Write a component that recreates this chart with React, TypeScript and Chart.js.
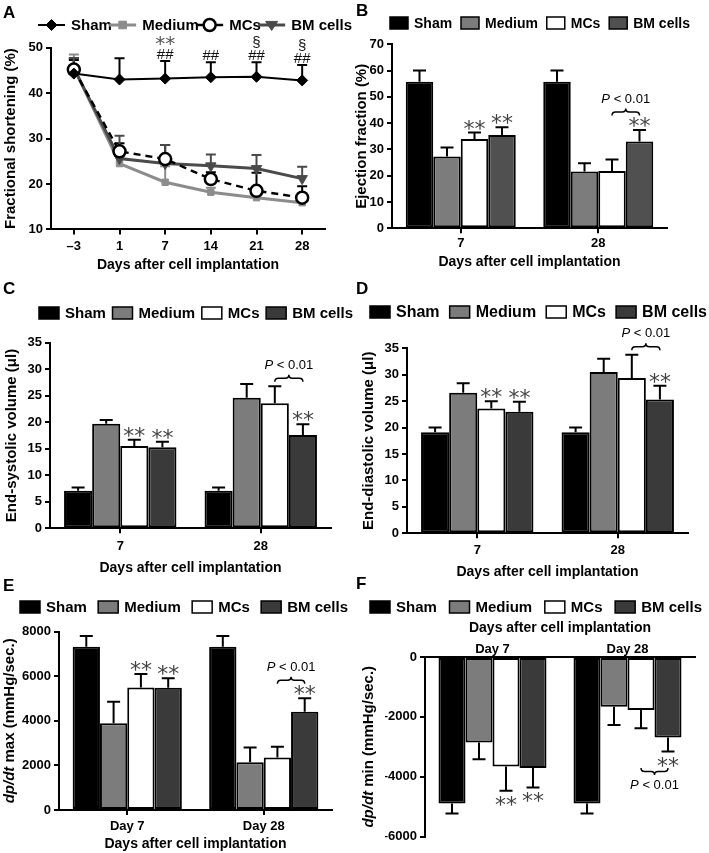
import React, { useEffect, useRef } from 'react';
import { Chart, registerables } from 'chart.js';

Chart.register(...registerables);

const PAGE_W = 709;
const PAGE_H = 853;
const FONT = '"Liberation Sans", Arial, Helvetica, sans-serif';
const STAR_FONT = '"DejaVu Sans", sans-serif';

const GROUPS = ['Sham', 'Medium', 'MCs', 'BM cells'];

// ---------- Panel A: fractional shortening (%) ----------
const daysA = ['–3', '1', '7', '14', '21', '28'];
const shamA = [44.3, 43.0, 43.2, 43.5, 43.6, 42.8];
const shamAErr = [3.0, 4.7, 3.9, 3.3, 3.2, 3.4];
const mediumA = [45.6, 24.5, 20.4, 18.2, 17.0, 15.9];
const mediumAErr = [2.9, 2.0, 3.5, 1.0, 1.0, 1.0];
const mcsA = [45.2, 27.2, 25.5, 21.1, 18.5, 17.0];
const mcsAErr = [2.5, 1.8, 3.1, 1.5, 4.0, 2.5];
const bmA = [45.5, 25.6, 24.5, 24.0, 23.4, 21.2];
const bmAErr = [2.2, 5.0, 4.1, 2.5, 3.0, 2.6];
const marksA = [[], [], ['##', '**'], ['##'], ['##', '§'], ['##', '§']];

// ---------- Panel B: ejection fraction (%) ----------
const daysB = ['7', '28'];
const shamB = [55.8, 55.8];
const shamBErr = [4.2, 4.2];
const mediumB = [27.3, 21.6];
const mediumBErr = [3.4, 3.1];
const mcsB = [34.0, 21.8];
const mcsBErr = [2.4, 4.4];
const bmB = [35.5, 33.0];
const bmBErr = [2.9, 4.4];

// ---------- Panel C: end-systolic volume (µl) ----------
const daysC = ['7', '28'];
const shamC = [7.1, 7.1];
const shamCErr = [0.6, 0.6];
const mediumC = [19.7, 24.6];
const mediumCErr = [0.7, 2.6];
const mcsC = [15.5, 23.6];
const mcsCErr = [1.2, 3.2];
const bmC = [15.3, 17.6];
const bmCErr = [1.0, 2.0];

// ---------- Panel D: end-diastolic volume (µl) ----------
const daysD = ['7', '28'];
const shamD = [19.1, 19.1];
const shamDErr = [0.9, 0.9];
const mediumD = [26.6, 30.5];
const mediumDErr = [1.8, 2.5];
const mcsD = [23.6, 29.4];
const mcsDErr = [1.4, 4.4];
const bmD = [23.0, 25.3];
const bmDErr = [1.9, 2.6];

// ---------- Panel E: dp/dt max ----------
const daysE = ['Day 7', 'Day 28'];
const shamE = [7330, 7330];
const shamEErr = [480, 480];
const mediumE = [3890, 2140];
const mediumEErr = [970, 660];
const mcsE = [5500, 2360];
const mcsEErr = [600, 480];
const bmE = [5490, 4410];
const bmEErr = [420, 600];

// ---------- Panel F: dp/dt min ----------
const daysF = ['Day 7', 'Day 28'];
const shamF = [-4900, -4900];
const shamFErr = [330, 330];
const mediumF = [-2860, -1660];
const mediumFErr = [560, 610];
const mcsF = [-3660, -1770];
const mcsFErr = [810, 610];
const bmF = [-3710, -2690];
const bmFErr = [650, 470];

// significance: [dataset index, category index]
const starsBars: [number, number][] = [[2, 0], [3, 0], [3, 1]];
const pLabel = { italic: 'P', rest: ' < 0.01' };

type Rect = { l: number; r: number; t: number; b: number };
type TitlePart = { text: string; italic?: boolean };
interface Panel {
  kind: 'line' | 'bar';
  letter: string;
  letterX: number;
  letterY: number;
  plot: Rect;
  labels: string[];
  series: number[][];
  errors: number[][];
  colors: string[];
  yMin: number;
  yMax: number;
  yStep: number;
  yTitle: TitlePart[];
  yTitleX: number;
  xTitle: string;
  xTop?: boolean;
  xLabelY: number;
  xTitleY: number;
  legend: { y: number; x0: number; x1: number; size: number; boxW: number };
  marks?: string[][];
  stars?: boolean;
}

const barColorsB = ['#000000', '#7c7c7c', '#ffffff', '#505050'];
const barColors = ['#000000', '#7c7c7c', '#ffffff', '#3a3a3a'];
const lineStyles = [
  { color: '#000000', width: 2, dash: [] as number[], point: 'rectRot', r: 5.5, fill: '#000000', rot: 0, order: 0, mk: 'diamond' },
  { color: '#8c8c8c', width: 3, dash: [] as number[], point: 'rect', r: 4.5, fill: '#8c8c8c', rot: 0, order: 3, mk: 'square' },
  { color: '#000000', width: 2.5, dash: [7, 5], point: 'circle', r: 6, fill: '#ffffff', rot: 0, order: 1, mk: 'circle' },
  { color: '#4a4a4a', width: 3, dash: [] as number[], point: 'triangle', r: 6, fill: '#4a4a4a', rot: 180, order: 2, mk: 'tri' },
];

const PANELS: Panel[] = [
  {
    kind: 'line', letter: 'A', letterX: 3, letterY: 13,
    plot: { l: 51, r: 325, t: 47.7, b: 229.5 },
    labels: daysA,
    series: [shamA, mediumA, mcsA, bmA],
    errors: [shamAErr, mediumAErr, mcsAErr, bmAErr],
    colors: lineStyles.map((s) => s.color),
    yMin: 10, yMax: 50, yStep: 10,
    yTitle: [{ text: 'Fractional shortening (%)' }], yTitleX: 11,
    xTitle: 'Days after cell implantation', xLabelY: 246, xTitleY: 265,
    legend: { y: 25, x0: 38, x1: 352, size: 15, boxW: 27 },
    marks: marksA,
  },
  {
    kind: 'bar', letter: 'B', letterX: 356, letterY: 11,
    plot: { l: 392, r: 667, t: 44.3, b: 228.3 },
    labels: daysB,
    series: [shamB, mediumB, mcsB, bmB],
    errors: [shamBErr, mediumBErr, mcsBErr, bmBErr],
    colors: barColorsB,
    yMin: 0, yMax: 70, yStep: 10,
    yTitle: [{ text: 'Ejection fraction (%)' }], yTitleX: 362,
    xTitle: 'Days after cell implantation', xLabelY: 243, xTitleY: 262,
    legend: { y: 23, x0: 390, x1: 690, size: 14, boxW: 18 },
    stars: true,
  },
  {
    kind: 'bar', letter: 'C', letterX: 3, letterY: 289,
    plot: { l: 50, r: 331, t: 342.7, b: 528.3 },
    labels: daysC,
    series: [shamC, mediumC, mcsC, bmC],
    errors: [shamCErr, mediumCErr, mcsCErr, bmCErr],
    colors: barColors,
    yMin: 0, yMax: 35, yStep: 5,
    yTitle: [{ text: 'End-systolic volume (μl)' }], yTitleX: 12,
    xTitle: 'Days after cell implantation', xLabelY: 546, xTitleY: 568,
    legend: { y: 313, x0: 39, x1: 353, size: 15, boxW: 20 },
    stars: true,
  },
  {
    kind: 'bar', letter: 'D', letterX: 356, letterY: 289,
    plot: { l: 407, r: 688, t: 348.3, b: 533.3 },
    labels: daysD,
    series: [shamD, mediumD, mcsD, bmD],
    errors: [shamDErr, mediumDErr, mcsDErr, bmDErr],
    colors: barColors,
    yMin: 0, yMax: 35, yStep: 5,
    yTitle: [{ text: 'End-diastolic volume (μl)' }], yTitleX: 369,
    xTitle: 'Days after cell implantation', xLabelY: 550, xTitleY: 572,
    legend: { y: 312, x0: 370, x1: 707, size: 16, boxW: 20 },
    stars: true,
  },
  {
    kind: 'bar', letter: 'E', letterX: 3, letterY: 586,
    plot: { l: 59, r: 332, t: 631.7, b: 810 },
    labels: daysE,
    series: [shamE, mediumE, mcsE, bmE],
    errors: [shamEErr, mediumEErr, mcsEErr, bmEErr],
    colors: barColors,
    yMin: 0, yMax: 8000, yStep: 2000,
    yTitle: [{ text: 'dp/dt', italic: true }, { text: ' max (mmHg/sec.)' }], yTitleX: 10,
    xTitle: 'Days after cell implantation', xLabelY: 826, xTitleY: 844,
    legend: { y: 607, x0: 20, x1: 348, size: 15, boxW: 20 },
    stars: true,
  },
  {
    kind: 'bar', letter: 'F', letterX: 356, letterY: 584,
    plot: { l: 425, r: 695, t: 657, b: 836.5 },
    labels: daysF,
    series: [shamF, mediumF, mcsF, bmF],
    errors: [shamFErr, mediumFErr, mcsFErr, bmFErr],
    colors: barColors,
    yMin: -6000, yMax: 0, yStep: 2000,
    yTitle: [{ text: 'dp/dt', italic: true }, { text: ' min (mmHg/sec.)' }], yTitleX: 369,
    xTitle: 'Days after cell implantation', xTop: true, xLabelY: 649, xTitleY: 628,
    legend: { y: 607, x0: 370, x1: 702, size: 15, boxW: 20 },
    stars: true,
  },
];

// ---------- drawing helpers ----------
function textCentered(ctx: CanvasRenderingContext2D, text: string, x: number, y: number, font: string, color: string) {
  ctx.save();
  ctx.font = font;
  ctx.fillStyle = color;
  ctx.textAlign = 'center';
  ctx.textBaseline = 'alphabetic';
  const m = ctx.measureText(text);
  const off = (m.actualBoundingBoxAscent - m.actualBoundingBoxDescent) / 2;
  ctx.fillText(text, x, y + off);
  ctx.restore();
}

function drawMarker(ctx: CanvasRenderingContext2D, kind: string, x: number, y: number, r: number, fill: string, stroke: string, lw: number) {
  ctx.save();
  ctx.beginPath();
  if (kind === 'diamond') {
    ctx.moveTo(x, y - r); ctx.lineTo(x + r, y); ctx.lineTo(x, y + r); ctx.lineTo(x - r, y); ctx.closePath();
  } else if (kind === 'square') {
    ctx.rect(x - r * 0.85, y - r * 0.85, r * 1.7, r * 1.7);
  } else if (kind === 'circle') {
    ctx.arc(x, y, r, 0, Math.PI * 2);
  } else {
    ctx.moveTo(x - r, y - r * 0.6); ctx.lineTo(x + r, y - r * 0.6); ctx.lineTo(x, y + r * 0.9); ctx.closePath();
  }
  ctx.fillStyle = fill;
  ctx.fill();
  ctx.lineWidth = lw;
  ctx.strokeStyle = stroke;
  ctx.stroke();
  ctx.restore();
}

function drawLegend(ctx: CanvasRenderingContext2D, cfg: Panel) {
  const L = cfg.legend;
  const font = `bold ${L.size}px ${FONT}`;
  ctx.save();
  ctx.font = font;
  const gap = 6;
  const widths = GROUPS.map((g) => L.boxW + gap + ctx.measureText(g).width);
  const total = widths.reduce((a, b) => a + b, 0);
  const space = (L.x1 - L.x0 - total) / (GROUPS.length - 1);
  let x = L.x0;
  GROUPS.forEach((g, i) => {
    if (cfg.kind === 'line') {
      const s = lineStyles[i];
      ctx.beginPath();
      ctx.moveTo(x, L.y);
      ctx.lineTo(x + L.boxW, L.y);
      ctx.strokeStyle = s.color;
      ctx.lineWidth = s.width;
      ctx.stroke();
      drawMarker(ctx, s.mk, x + L.boxW / 2, L.y, s.r, s.fill, s.color, s.mk === 'circle' ? 2.5 : 1);
    } else {
      ctx.fillStyle = cfg.colors[i];
      ctx.fillRect(x, L.y - 6, L.boxW, 12);
      ctx.strokeStyle = '#000';
      ctx.lineWidth = 1.5;
      ctx.strokeRect(x, L.y - 6, L.boxW, 12);
    }
    ctx.fillStyle = '#000';
    ctx.font = font;
    ctx.textAlign = 'left';
    ctx.textBaseline = 'middle';
    ctx.fillText(g, x + L.boxW + gap, L.y + 1);
    x += widths[i] + space;
  });
  ctx.restore();
}

function drawYTitle(chart: Chart, cfg: Panel) {
  const ctx = chart.ctx;
  const area = chart.chartArea;
  const cy = (area.top + area.bottom) / 2;
  const size = 15;
  ctx.save();
  ctx.translate(cfg.yTitleX, cy);
  ctx.rotate(-Math.PI / 2);
  ctx.textBaseline = 'middle';
  ctx.textAlign = 'left';
  ctx.fillStyle = '#000';
  const fonts = cfg.yTitle.map((p) => `${p.italic ? 'italic ' : ''}bold ${size}px ${FONT}`);
  const ws = cfg.yTitle.map((p, i) => { ctx.font = fonts[i]; return ctx.measureText(p.text).width; });
  let x = -ws.reduce((a, b) => a + b, 0) / 2;
  cfg.yTitle.forEach((p, i) => {
    ctx.font = fonts[i];
    ctx.fillText(p.text, x, 0);
    x += ws[i];
  });
  ctx.restore();
}

function errEnd(v: number, e: number) {
  return v < 0 ? v - e : v + e;
}

function drawErrorBars(chart: Chart, cfg: Panel) {
  const ctx = chart.ctx;
  const ys = chart.scales.y;
  ctx.save();
  cfg.series.forEach((data, i) => {
    const meta = chart.getDatasetMeta(i);
    data.forEach((v, j) => {
      const el: any = meta.data[j];
      if (!el) return;
      const x = el.x;
      const y1 = ys.getPixelForValue(v);
      const y2 = ys.getPixelForValue(errEnd(v, cfg.errors[i][j]));
      const cap = cfg.kind === 'line' ? 10 : 13;
      ctx.strokeStyle = cfg.kind === 'line' ? cfg.colors[i] : '#000';
      ctx.lineWidth = 2;
      ctx.setLineDash([]);
      ctx.beginPath();
      ctx.moveTo(x, y1);
      ctx.lineTo(x, y2);
      ctx.moveTo(x - cap / 2, y2);
      ctx.lineTo(x + cap / 2, y2);
      ctx.stroke();
    });
  });
  ctx.restore();
}

function drawBrace(ctx: CanvasRenderingContext2D, x1: number, x2: number, yb: number, d: number) {
  // d = -1 : brace above (tips down, point up); d = 1 : brace below (tips up, point down)
  const xm = (x1 + x2) / 2;
  const yt = yb - d * 3.5;
  const yp = yb + d * 3.5;
  ctx.save();
  ctx.strokeStyle = '#000';
  ctx.lineWidth = 1.5;
  ctx.beginPath();
  ctx.moveTo(x1, yt);
  ctx.quadraticCurveTo(x1, yb, x1 + 3.5, yb);
  ctx.lineTo(xm - 3.5, yb);
  ctx.quadraticCurveTo(xm, yb, xm, yp);
  ctx.quadraticCurveTo(xm, yb, xm + 3.5, yb);
  ctx.lineTo(x2 - 3.5, yb);
  ctx.quadraticCurveTo(x2, yb, x2, yt);
  ctx.stroke();
  ctx.restore();
}

function drawPText(ctx: CanvasRenderingContext2D, x: number, y: number) {
  ctx.save();
  const f1 = `italic 13px ${FONT}`;
  const f2 = `13px ${FONT}`;
  ctx.font = f1;
  const w1 = ctx.measureText(pLabel.italic).width;
  ctx.font = f2;
  const w2 = ctx.measureText(pLabel.rest).width;
  const x0 = x - (w1 + w2) / 2;
  ctx.fillStyle = '#000';
  ctx.textBaseline = 'middle';
  ctx.textAlign = 'left';
  ctx.font = f1;
  ctx.fillText(pLabel.italic, x0, y);
  ctx.font = f2;
  ctx.fillText(pLabel.rest, x0 + w1, y);
  ctx.restore();
}

function drawMarks(chart: Chart, cfg: Panel) {
  const ctx = chart.ctx;
  const ys = chart.scales.y;
  if (cfg.marks) {
    cfg.marks.forEach((list, j) => {
      if (!list.length) return;
      let top = Infinity;
      let x = 0;
      cfg.series.forEach((data, i) => {
        const el: any = chart.getDatasetMeta(i).data[j];
        x = el.x;
        top = Math.min(top, ys.getPixelForValue(errEnd(data[j], cfg.errors[i][j])));
      });
      list.forEach((m, k) => {
        const y = top - 7 - k * 13;
        if (m === '**') textCentered(ctx, m, x, y, `20px ${STAR_FONT}`, '#555');
        else textCentered(ctx, m, x, y, `15px ${FONT}`, '#111');
      });
    });
  }
  if (cfg.stars) {
    const starY: Record<string, number> = {};
    starsBars.forEach(([i, j]) => {
      const el: any = chart.getDatasetMeta(i).data[j];
      const v = cfg.series[i][j];
      const yEnd = ys.getPixelForValue(errEnd(v, cfg.errors[i][j]));
      const y = v < 0 ? yEnd + 10 : yEnd - 8;
      starY[`${i}-${j}`] = y;
      textCentered(ctx, '**', el.x, y, `22px ${STAR_FONT}`, '#444');
    });
    // brace between MCs and BM cells at day 28
    const a: any = chart.getDatasetMeta(2).data[1];
    const b: any = chart.getDatasetMeta(3).data[1];
    const neg = cfg.series[3][1] < 0;
    const mcsCap = ys.getPixelForValue(errEnd(cfg.series[2][1], cfg.errors[2][1]));
    const bmStar = starY['3-1'];
    const yb = neg ? Math.max(bmStar + 10, mcsCap + 8) : Math.min(bmStar - 10, mcsCap - 8);
    drawBrace(ctx, a.x, b.x, yb, neg ? 1 : -1);
    drawPText(ctx, (a.x + b.x) / 2, neg ? yb + 14 : yb - 13);
  }
}

function decorPlugin(cfg: Panel) {
  return {
    id: 'decor',
    beforeDatasetsDraw(chart: Chart) {
      if (cfg.kind === 'line') drawErrorBars(chart, cfg);
    },
    afterDatasetsDraw(chart: Chart) {
      if (cfg.kind === 'bar') drawErrorBars(chart, cfg);
      drawMarks(chart, cfg);
    },
    afterDraw(chart: Chart) {
      const ctx = chart.ctx;
      drawLegend(ctx, cfg);
      drawYTitle(chart, cfg);
      ctx.save();
      ctx.font = `bold 17px ${FONT}`;
      ctx.fillStyle = '#000';
      ctx.textBaseline = 'middle';
      ctx.textAlign = 'left';
      ctx.fillText(cfg.letter, cfg.letterX, cfg.letterY);
      ctx.restore();
    },
  };
}

const Y_W = 40;

function makeChart(canvas: HTMLCanvasElement, cfg: Panel) {
  const p = cfg.plot;
  const titleHalf = 8.4;
  const xH = cfg.xTop ? p.t - cfg.xTitleY + titleHalf : cfg.xTitleY + titleHalf - p.b;
  const labelHalf = 7.8;
  const tickLen = cfg.xTop ? 0 : 5;
  const labelPad = cfg.xTop
    ? Math.max(0, p.t - cfg.xLabelY - labelHalf)
    : Math.max(0, cfg.xLabelY - labelHalf - p.b - tickLen);
  const padding = {
    left: p.l - Y_W,
    right: PAGE_W - p.r,
    top: cfg.xTop ? p.t - xH : p.t,
    bottom: cfg.xTop ? PAGE_H - p.b : PAGE_H - p.b - xH,
  };

  const datasets: any[] = cfg.series.map((data, i) => {
    if (cfg.kind === 'line') {
      const s = lineStyles[i];
      return {
        label: GROUPS[i],
        data,
        borderColor: s.color,
        backgroundColor: s.fill,
        borderWidth: s.width,
        borderDash: s.dash,
        pointStyle: s.point,
        pointRadius: s.r,
        pointRotation: s.rot,
        pointBackgroundColor: s.fill,
        pointBorderColor: s.color,
        pointBorderWidth: s.mk === 'circle' ? 2.5 : 1,
        tension: 0,
        order: s.order,
        clip: false,
      };
    }
    return {
      label: GROUPS[i],
      data,
      backgroundColor: cfg.colors[i],
      borderColor: '#000',
      borderWidth: 2,
      borderSkipped: false,
      categoryPercentage: 0.8,
      barPercentage: 1.0,
    };
  });

  const tickFont = { family: FONT, size: 13, weight: 'bold' as const };

  return new Chart(canvas, {
    type: cfg.kind,
    data: { labels: cfg.labels, datasets },
    options: {
      responsive: false,
      animation: false,
      events: [],
      layout: { padding },
      plugins: { legend: { display: false }, tooltip: { enabled: false } },
      scales: {
        x: {
          type: 'category',
          position: cfg.xTop ? 'top' : 'bottom',
          offset: true,
          afterFit: (s: any) => { s.height = xH; },
          grid: {
            display: true, drawOnChartArea: false, drawTicks: !cfg.xTop,
            tickLength: tickLen, color: '#000', lineWidth: 2, offset: false,
          },
          border: { display: true, color: '#000', width: 2 },
          ticks: { font: tickFont, color: '#000', padding: labelPad, maxRotation: 0, autoSkip: false },
          title: {
            display: true, text: cfg.xTitle, color: '#000',
            font: { family: FONT, size: 14, weight: 'bold' }, padding: 0,
          },
        },
        y: {
          type: 'linear',
          min: cfg.yMin,
          max: cfg.yMax,
          afterFit: (s: any) => { s.width = Y_W; },
          grid: { display: true, drawOnChartArea: false, drawTicks: true, tickLength: 5, color: '#000', lineWidth: 2 },
          border: { display: true, color: '#000', width: 2 },
          ticks: {
            stepSize: cfg.yStep,
            font: tickFont,
            color: '#000',
            padding: 3,
            callback: (v: any) => String(v).replace('-', '–'),
          },
        },
      },
    } as any,
    plugins: [decorPlugin(cfg) as any],
  });
}

export default function App() {
  const refs = useRef<(HTMLCanvasElement | null)[]>([]);
  useEffect(() => {
    const charts = PANELS.map((cfg, i) => makeChart(refs.current[i] as HTMLCanvasElement, cfg));
    return () => charts.forEach((c) => c.destroy());
  }, []);
  return (
    <div style={{ position: 'absolute', left: 0, top: 0, width: PAGE_W, height: PAGE_H, background: '#fff' }}>
      {PANELS.map((p, i) => (
        <canvas
          key={p.letter}
          ref={(el) => { refs.current[i] = el; }}
          width={PAGE_W}
          height={PAGE_H}
          style={{ position: 'absolute', left: 0, top: 0 }}
        />
      ))}
    </div>
  );
}
